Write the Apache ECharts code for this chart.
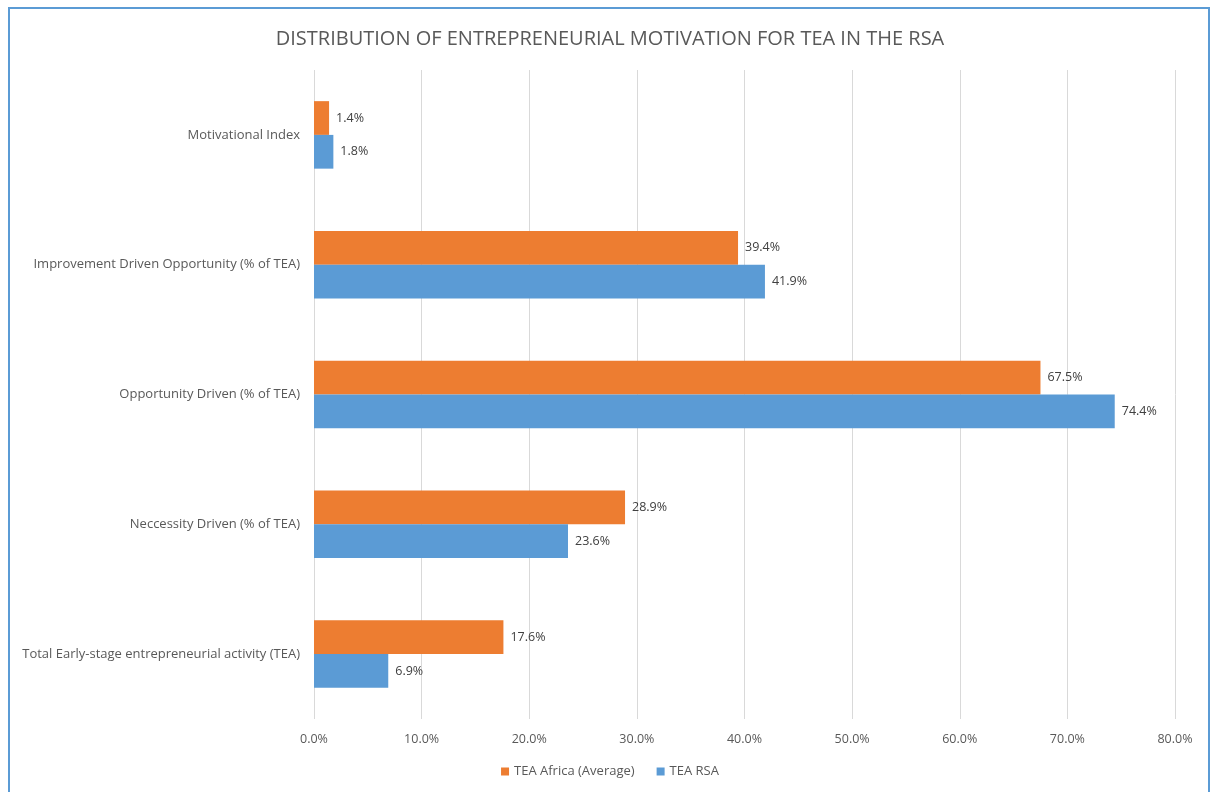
<!DOCTYPE html>
<html>
<head>
<meta charset="utf-8">
<script src="https://cdn.jsdelivr.net/npm/echarts@6/dist/echarts.min.js"></script>
<style>
  html, body { margin: 0; padding: 0; background: #fff; }
  #chart { width: 1220px; height: 792px; }
  .frame {
    position: absolute; left: 8px; top: 7px; width: 1202px; height: 800px;
    border: 2px solid #5b9bd5; pointer-events: none; box-sizing: border-box;
  }
</style>
</head>
<body>
<div id="chart"></div>
<div class="frame"></div>
<script>
// categories, bottom to top
const categories = [
  "Total Early-stage entrepreneurial activity (TEA)",
  "Neccessity Driven (% of TEA)",
  "Opportunity Driven (% of TEA)",
  "Improvement Driven Opportunity (% of TEA)",
  "Motivational Index"
];
const teaAfrica = [17.6, 28.9, 67.5, 39.4, 1.4];
const teaRsa = [6.9, 23.6, 74.4, 41.9, 1.8];

const font = "'Open Sans', sans-serif";
const chart = echarts.init(document.getElementById("chart"));

const valueLabel = {
  show: true,
  position: "right",
  distance: 7,
  color: "#404040",
  fontSize: 12.5,
  fontFamily: font,
  formatter: (p) => p.value.toFixed(1) + "%"
};

const option = {
  animation: false,
  title: {
    text: "DISTRIBUTION OF ENTREPRENEURIAL MOTIVATION FOR TEA IN THE RSA",
    left: "center",
    top: 24,
    textStyle: { color: "#595959", fontSize: 20, fontWeight: "normal", fontFamily: font }
  },
  legend: {
    data: ["TEA Africa (Average)", "TEA RSA"],
    bottom: 9,
    left: "center",
    itemWidth: 8,
    itemHeight: 8,
    itemGap: 22,
    icon: "rect",
    textStyle: { color: "#595959", fontSize: 13, fontFamily: font }
  },
  grid: { left: 314, right: 45, top: 70, bottom: 73 },
  xAxis: {
    type: "value",
    min: 0,
    max: 80,
    interval: 10,
    axisLine: { show: false },
    axisTick: { show: false },
    splitLine: { lineStyle: { color: "#d9d9d9" } },
    axisLabel: {
      color: "#595959",
      fontSize: 12.5,
      fontFamily: font,
      margin: 14,
      formatter: (v) => v.toFixed(1) + "%"
    }
  },
  yAxis: {
    type: "category",
    data: categories,
    axisLine: { show: false },
    axisTick: { show: false },
    axisLabel: { color: "#595959", fontSize: 13, fontFamily: font, margin: 14 }
  },
  series: [
    {
      name: "TEA Africa (Average)",
      type: "bar",
      data: teaAfrica,
      barGap: "0%",
      barCategoryGap: "48%",
      itemStyle: { color: "#ed7d31" },
      label: valueLabel
    },
    {
      name: "TEA RSA",
      type: "bar",
      data: teaRsa,
      barGap: "0%",
      barCategoryGap: "48%",
      itemStyle: { color: "#5b9bd5" },
      label: valueLabel
    }
  ]
};

chart.setOption(option);
</script>
</body>
</html>
